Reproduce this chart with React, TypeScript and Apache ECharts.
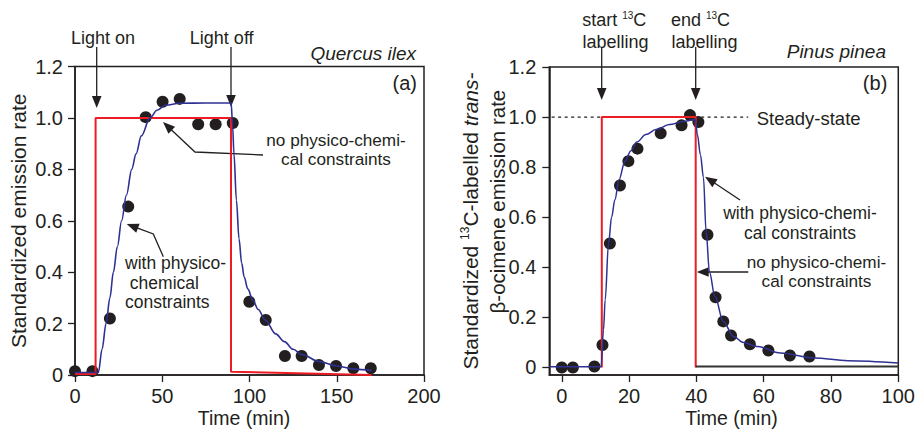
import React, { useEffect, useRef } from "react";
import * as echarts from "echarts";

// ---------- data ----------
const leftXTicks = [0, 50, 100, 150, 200];
const yTicks = [0, 0.2, 0.4, 0.6, 0.8, 1.0, 1.2];
const rightXTicks = [0, 20, 40, 60, 80, 100];

// (a) Quercus ilex – measured points
const leftObsTime = [0, 10, 20, 30.5, 40.5, 50.2, 60, 70.6, 80.6, 90.4, 99.9, 109.3, 120.3, 129.9, 139.8, 149.6, 159.5, 169.5];
const leftObsValue = [0.015, 0.015, 0.22, 0.655, 1.003, 1.063, 1.074, 0.975, 0.975, 0.98, 0.285, 0.214, 0.074, 0.074, 0.039, 0.035, 0.026, 0.026];
// model with physico-chemical constraints
const leftModelTime = [0, 13.4, 15.5, 17.8, 20, 22, 24.3, 26.7, 29.5, 32.5, 35, 38, 43, 47, 52, 60, 75, 89.5, 90.3, 91.1, 92.5, 94, 95.5, 97, 99, 102, 105, 109, 115, 120, 125, 130, 140, 150, 160, 170];
const leftModelValue = [0.01, 0.01, 0.1, 0.2, 0.3, 0.4, 0.5, 0.6, 0.7, 0.8, 0.86, 0.93, 1.0, 1.03, 1.05, 1.057, 1.058, 1.058, 0.97, 0.86, 0.68, 0.53, 0.435, 0.38, 0.335, 0.29, 0.255, 0.214, 0.16, 0.13, 0.1, 0.08, 0.052, 0.035, 0.023, 0.017];
// model without constraints
const leftStepTime = [0, 11.8, 11.8, 89.4, 89.4, 170];
const leftStepValue = [0.004, 0.004, 1, 1, 0.013, 0];

// (b) Pinus pinea – measured points
const rightObsTime = [0, 3.3, 9.7, 12.1, 14.3, 17.3, 19.8, 22.5, 29.4, 35.6, 38.1, 40.6, 43.3, 45.7, 48, 50.3, 55.9, 61.4, 67.8, 73.6];
const rightObsValue = [0, 0, 0.004, 0.09, 0.495, 0.727, 0.824, 0.874, 0.935, 0.967, 1.008, 0.98, 0.53, 0.28, 0.184, 0.128, 0.093, 0.068, 0.048, 0.044];
const rightModelTime = [-3.7, 11.7, 12.4, 12.9, 13.9, 14.8, 15.8, 17, 18.8, 20.5, 22.3, 25, 28, 32, 36, 39.7, 40.3, 41.2, 42.1, 42.9, 43.9, 45.5, 48, 51, 54, 58, 65, 75, 85, 100];
const rightModelValue = [0.003, 0.003, 0.15, 0.27, 0.495, 0.6, 0.67, 0.75, 0.824, 0.865, 0.9, 0.93, 0.95, 0.97, 0.982, 0.99, 0.93, 0.85, 0.76, 0.54, 0.38, 0.284, 0.184, 0.124, 0.1, 0.084, 0.058, 0.038, 0.027, 0.018];
const rightStepTime = [11.9, 11.9, 39.8, 39.8];
const rightStepValue = [0, 1, 1, 0];
const rightTailTime = [39.8, 100];
const rightTailValue = [0.004, 0.004];
const steadyTime = [-3, 55.4];
const steadyValue = [1, 1];

// ---------- style ----------
const FONT = "'Liberation Sans', Arial, Helvetica, sans-serif";
const INK = "#231f20";
const RED = "#ed1c24";
const BLUE = "#2e3192";

const zip = (xs: number[], ys: number[]) => xs.map((x, i) => [x, ys[i]]);
const fmtY = (v: number) => (v === 0 ? "0" : v.toFixed(1));

function arrowEls(pts: number[][]) {
  const n = pts.length;
  const [x2, y2] = pts[n - 1];
  const [x1, y1] = pts[n - 2];
  const dx = x2 - x1, dy = y2 - y1;
  const L = Math.hypot(dx, dy);
  const ux = dx / L, uy = dy / L;
  const hl = 12, hw = 4.8;
  const bx = x2 - ux * hl, by = y2 - uy * hl;
  const shaft = pts.slice(0, n - 1).concat([[bx + ux, by + uy]]);
  return [
    { type: "polyline", silent: true, shape: { points: shaft }, style: { stroke: INK, lineWidth: 1.3, fill: null } },
    {
      type: "polygon",
      silent: true,
      shape: { points: [[x2, y2], [bx - uy * hw, by + ux * hw], [bx + uy * hw, by - ux * hw]] },
      style: { fill: INK },
    },
  ];
}

function txt(text: string, x: number, y: number, o: any = {}) {
  const align = o.align || "center";
  return {
    type: "text",
    silent: true,
    x,
    y,
    rotation: o.rotation || 0,
    style: {
      text,
      fill: INK,
      fontSize: o.fontSize || 17.5,
      fontFamily: FONT,
      fontStyle: o.italic ? "italic" : "normal",
      lineHeight: o.lineHeight,
      align,
      textAlign: align,
      verticalAlign: "middle",
      textVerticalAlign: "middle",
      rich: o.rich,
    },
  };
}

function supRich(size: number) {
  return {
    n: { fontSize: size, fontFamily: FONT, lineHeight: size + 2, fill: INK },
    i: { fontSize: size, fontFamily: FONT, fontStyle: "italic", lineHeight: size + 2, fill: INK },
    s: { fontSize: Math.round(size * 0.56), fontFamily: FONT, lineHeight: size * 0.85, verticalAlign: "top", fill: INK },
  };
}

const axisCommon = {
  axisLine: { show: true, onZero: false, lineStyle: { color: INK, width: 1.5 } },
  axisTick: { show: true, inside: false, length: 7, lineStyle: { color: INK, width: 1.3 } },
  splitLine: { show: false },
};

export default function App() {
  const ref = useRef<HTMLDivElement>(null);
  useEffect(() => {
    if (!ref.current) return;
    const chart = echarts.init(ref.current, null, { renderer: "svg" });
    const labelStyle = { fontSize: 20, color: INK, fontFamily: FONT };
    const gridCommon = {
      show: true,
      borderColor: INK,
      borderWidth: 1.5,
      backgroundColor: "transparent",
      containLabel: false,
      outerBoundsMode: "none",
    };
    const option: any = {
      animation: false,
      backgroundColor: "#ffffff",
      grid: [
        { ...gridCommon, left: 75, top: 66.5, width: 349, height: 308.5 },
        { ...gridCommon, left: 549.3, top: 67, width: 349, height: 308 },
      ],
      xAxis: [
        {
          type: "value",
          gridIndex: 0,
          min: 0,
          max: 200,
          interval: 50,
          ...axisCommon,
          axisLabel: { ...labelStyle, margin: 11, formatter: (v: number) => String(v) },
        },
        {
          type: "value",
          gridIndex: 1,
          min: -3.7,
          max: 100,
          ...axisCommon,
          axisTick: { ...axisCommon.axisTick, customValues: rightXTicks },
          axisLabel: { ...labelStyle, margin: 11, customValues: rightXTicks, formatter: (v: number) => String(v) },
        },
      ],
      yAxis: [
        {
          type: "value",
          gridIndex: 0,
          min: 0,
          max: 1.2,
          interval: 0.2,
          ...axisCommon,
          axisLabel: { ...labelStyle, margin: 12, formatter: fmtY },
          name: "Standardized emission rate",
          nameLocation: "middle",
          nameGap: 46,
          nameTextStyle: { fontSize: 21, color: INK, fontFamily: FONT },
        },
        {
          type: "value",
          gridIndex: 1,
          min: -0.03,
          max: 1.2,
          ...axisCommon,
          axisTick: { ...axisCommon.axisTick, customValues: yTicks },
          axisLabel: { ...labelStyle, margin: 13, customValues: yTicks, formatter: fmtY },
        },
      ],
      series: [
        {
          type: "scatter", xAxisIndex: 0, yAxisIndex: 0, data: zip(leftObsTime, leftObsValue),
          symbolSize: 12, itemStyle: { color: INK, opacity: 1 }, z: 2,
        },
        {
          type: "line", xAxisIndex: 0, yAxisIndex: 0, data: zip(leftStepTime, leftStepValue),
          symbol: "none", lineStyle: { color: RED, width: 2 }, z: 3,
        },
        {
          type: "line", xAxisIndex: 0, yAxisIndex: 0, data: zip(leftModelTime, leftModelValue),
          symbol: "none", smooth: 0.35, smoothMonotone: "x", lineStyle: { color: BLUE, width: 1.6 }, z: 4,
        },
        {
          type: "scatter", xAxisIndex: 1, yAxisIndex: 1, data: zip(rightObsTime, rightObsValue),
          symbolSize: 12, itemStyle: { color: INK, opacity: 1 }, z: 2,
        },
        {
          type: "line", xAxisIndex: 1, yAxisIndex: 1, data: zip(steadyTime, steadyValue),
          symbol: "none", lineStyle: { color: INK, width: 1.3, type: [3, 3.5] }, z: 2,
        },
        {
          type: "line", xAxisIndex: 1, yAxisIndex: 1, data: zip(rightStepTime, rightStepValue),
          symbol: "none", lineStyle: { color: RED, width: 2 }, z: 3,
        },
        {
          type: "line", xAxisIndex: 1, yAxisIndex: 1, data: zip(rightTailTime, rightTailValue),
          symbol: "none", lineStyle: { color: "#333333", width: 2 }, z: 3,
        },
        {
          type: "line", xAxisIndex: 1, yAxisIndex: 1, data: zip(rightModelTime, rightModelValue),
          symbol: "none", smooth: 0.35, smoothMonotone: "x", lineStyle: { color: BLUE, width: 1.5 }, z: 4,
        },
      ],
      graphic: [
        // axis titles (x)
        txt("Time (min)", 244, 418, { fontSize: 19.5 }),
        txt("Time (min)", 731.5, 418, { fontSize: 19.5 }),
        // panel (a)
        txt("Light on", 103, 38, { fontSize: 18 }),
        txt("Light off", 221.7, 38, { fontSize: 18 }),
        ...arrowEls([[96.7, 47], [96.7, 108]]),
        ...arrowEls([[231, 47], [231, 107]]),
        txt("Quercus ilex", 416, 53, { fontSize: 19, italic: true, align: "right" }),
        txt("(a)", 417, 83, { fontSize: 20, align: "right" }),
        txt("no physico-chemi-\ncal constraints", 336, 149, { fontSize: 17.2, lineHeight: 19 }),
        ...arrowEls([[263, 155], [195, 152], [163, 122]]),
        txt("with physico-\n chemical\nconstraints", 125, 282.5, { align: "left", lineHeight: 19.2 }),
        ...arrowEls([[163.3, 256.7], [153.3, 234], [126.7, 224]]),
        // panel (b)
        txt("{n|start }{s|13}{n|C}", 614.3, 20, { fontSize: 18, rich: supRich(18) }),
        txt("labelling", 615.5, 41.7, { fontSize: 18 }),
        txt("{n|end }{s|13}{n|C}", 700.5, 20, { fontSize: 18, rich: supRich(18) }),
        txt("labelling", 704.5, 41.7, { fontSize: 18 }),
        ...arrowEls([[601.7, 47], [601.7, 100]]),
        ...arrowEls([[695.7, 47], [695.7, 100]]),
        txt("Pinus pinea", 886, 51, { fontSize: 19, italic: true, align: "right" }),
        txt("(b)", 887.3, 83, { fontSize: 20, align: "right" }),
        txt("Steady-state", 756.7, 118, { fontSize: 18.5, align: "left" }),
        txt("with physico-chemi-\ncal constraints", 800, 223, { lineHeight: 19.4 }),
        ...arrowEls([[740, 200], [705, 176.7]]),
        txt("no physico-chemi-\ncal constraints", 816.5, 271.2, { fontSize: 17.2, lineHeight: 19 }),
        ...arrowEls([[748.3, 272], [696.7, 272]]),
        txt("{n|Standardized }{s|13}{n|C-labelled }{i|trans-}", 470, 221, { fontSize: 21, rotation: Math.PI / 2, rich: supRich(21) }),
        txt("β-ocimene emission rate", 497, 201.6, { fontSize: 20.5, rotation: Math.PI / 2 }),
      ],
    };
    chart.setOption(option);
    return () => chart.dispose();
  }, []);
  return (
    <div
      ref={ref}
      style={{ position: "fixed", left: 0, top: 0, width: 915, height: 429, background: "#fff" }}
    />
  );
}
